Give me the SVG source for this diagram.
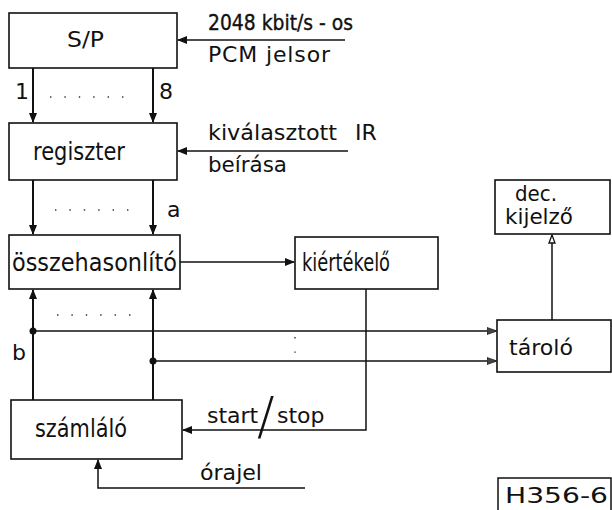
<svg xmlns="http://www.w3.org/2000/svg" width="612" height="510" viewBox="0 0 612 510">
<defs>
<marker id="arr" markerWidth="10" markerHeight="8" refX="9" refY="4" orient="auto" markerUnits="userSpaceOnUse">
<path d="M0,0 L10,4 L0,8 Z" fill="#111"/>
</marker>
<marker id="arrs" markerWidth="10" markerHeight="8" refX="9" refY="4" orient="auto" markerUnits="userSpaceOnUse">
<path d="M0,0.5 L10,4 L0,7.5 Z" fill="#444" stroke="#222" stroke-width="0.8"/>
</marker>
<marker id="arro" markerWidth="10" markerHeight="8" refX="9" refY="4" orient="auto" markerUnits="userSpaceOnUse">
<path d="M1,1 L9,4 L1,7 Z" fill="#fff" stroke="#111" stroke-width="1.3"/>
</marker>
</defs>
<style>
.box{fill:#fff;stroke:#111;stroke-width:1.6}
.t{font-family:"DejaVu Sans","Liberation Sans",sans-serif;font-size:22px;fill:#111}
.b{font-size:25px}
.ln{fill:none;stroke:#111;stroke-width:1.5}
.thk{fill:none;stroke:#111;stroke-width:2}
.dot{fill:none;stroke:#333;stroke-width:1.4;stroke-dasharray:1.4 13}
</style>
<rect width="612" height="510" fill="#fff"/>

<g id="sp">
<rect class="box" x="9" y="13" width="168" height="55"/>
<text class="t" x="67" y="47" font-size="24" textLength="37" lengthAdjust="spacingAndGlyphs">S/P</text>
</g>
<g id="regiszter">
<rect class="box" x="9" y="123" width="168" height="57"/>
<text class="t b" x="33" y="160" textLength="92" lengthAdjust="spacingAndGlyphs">regiszter</text>
</g>
<g id="osszehasonlito">
<rect class="box" x="9" y="235" width="171" height="54"/>
<text class="t b" x="12" y="271" textLength="165" lengthAdjust="spacingAndGlyphs">összehasonlító</text>
</g>
<g id="kiertekelo">
<rect class="box" x="295" y="237" width="143" height="52"/>
<text class="t b" x="302" y="271" textLength="88" lengthAdjust="spacingAndGlyphs">kiértékelő</text>
</g>
<g id="szamlalo">
<rect class="box" x="11" y="400" width="171" height="59"/>
<text class="t b" x="35" y="437" textLength="92" lengthAdjust="spacingAndGlyphs">számláló</text>
</g>
<g id="tarolo">
<rect class="box" x="497" y="320" width="114" height="52"/>
<text class="t" x="509" y="355" font-size="24" textLength="64" lengthAdjust="spacingAndGlyphs">tároló</text>
</g>
<g id="dec">
<rect class="box" x="495" y="180" width="115" height="54"/>
<text class="t" x="515" y="201" font-size="18" textLength="42" lengthAdjust="spacingAndGlyphs">dec.</text>
<text class="t" x="505" y="224" font-size="18" textLength="68" lengthAdjust="spacingAndGlyphs">kijelző</text>
</g>
<g id="label">
<path class="ln" d="M498,512 V478 H611 V512"/>
<text class="t" x="505" y="503" font-size="22" textLength="103" lengthAdjust="spacingAndGlyphs">H356-6</text>
</g>

<g id="connectors">
<line class="ln" x1="345" y1="40" x2="178" y2="40" marker-end="url(#arr)"/>
<line class="thk" x1="33" y1="68" x2="33" y2="122" marker-end="url(#arr)"/>
<line class="thk" x1="153" y1="68" x2="153" y2="122" marker-end="url(#arr)"/>
<line class="dot" x1="50" y1="97" x2="132" y2="97"/>
<line class="ln" x1="348" y1="151" x2="178" y2="151" marker-end="url(#arr)"/>
<line class="thk" x1="33" y1="180" x2="33" y2="234" marker-end="url(#arr)"/>
<line class="thk" x1="153" y1="180" x2="153" y2="234" marker-end="url(#arr)"/>
<line class="dot" x1="55" y1="210" x2="130" y2="210"/>
<line class="ln" x1="180" y1="262" x2="294" y2="262" marker-end="url(#arr)"/>
<line class="thk" x1="33" y1="400" x2="33" y2="290" marker-end="url(#arr)"/>
<line class="thk" x1="153" y1="400" x2="153" y2="290" marker-end="url(#arr)"/>
<line class="dot" x1="57" y1="315" x2="142" y2="315"/>
<circle cx="33" cy="331" r="3.5" fill="#111"/>
<circle cx="153" cy="361" r="3.5" fill="#111"/>
<line class="ln" x1="33" y1="331" x2="496" y2="331" stroke-width="1.2" marker-end="url(#arrs)"/>
<line class="ln" x1="153" y1="361" x2="496" y2="361" stroke-width="1.2" marker-end="url(#arrs)"/>
<line class="dot" x1="295" y1="337" x2="295" y2="357" stroke-dasharray="1.4 4"/>
<path class="ln" d="M366,289 V430 H183" marker-end="url(#arr)"/>
<path class="ln" d="M305,488 H98 V460" marker-end="url(#arr)"/>
<line class="ln" x1="552" y1="320" x2="552" y2="235" stroke-width="1.2" marker-end="url(#arro)"/>
</g>

<g id="labels">
<text class="t" x="208" y="30" textLength="145" lengthAdjust="spacingAndGlyphs" stroke="#111" stroke-width="0.4">2048 kbit/s - os</text>
<text class="t" x="208" y="62" textLength="122">PCM jelsor</text>
<text class="t" x="208" y="140" textLength="129" lengthAdjust="spacingAndGlyphs">kiválasztott</text>
<text class="t" x="355" y="140">IR</text>
<text class="t" x="208" y="172" textLength="79" lengthAdjust="spacingAndGlyphs">beírása</text>
<text class="t" x="15" y="99">1</text>
<text class="t" x="159" y="99">8</text>
<text class="t" x="167" y="217">a</text>
<text class="t" x="12" y="360">b</text>
<text class="t" x="207" y="423">start<tspan x="257" y="434" font-size="52" font-weight="200">/</tspan><tspan x="277" y="423">stop</tspan></text>
<text class="t" x="200" y="480" textLength="62" lengthAdjust="spacingAndGlyphs">órajel</text>
</g>
</svg>
